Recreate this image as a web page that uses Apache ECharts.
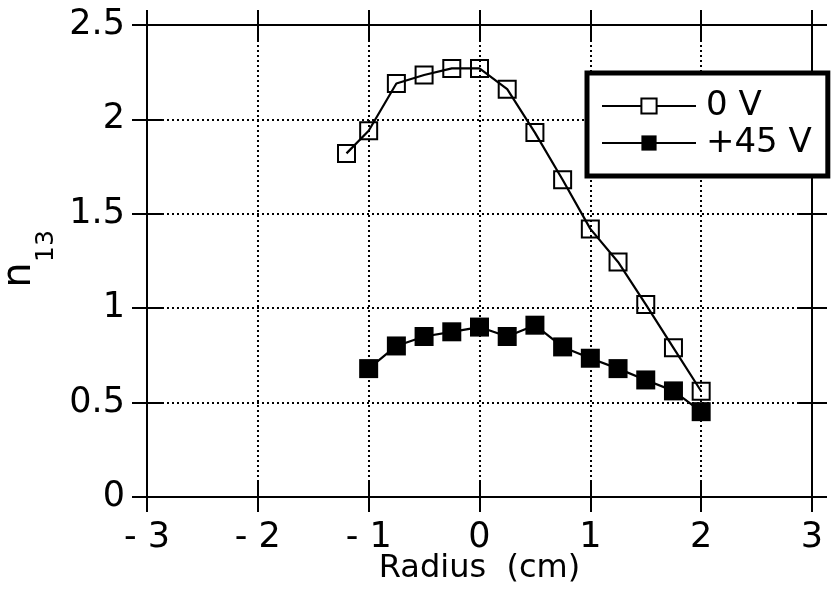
<!DOCTYPE html>
<html><head><meta charset="utf-8">
<script src="https://cdn.jsdelivr.net/npm/echarts@6/dist/echarts.min.js"></script>
<style>html,body{margin:0;padding:0;background:#fff}#c{width:832px;height:594px}</style>
</head><body><div id="c"></div>
<script>
// Data
const radius0V = [-1.2, -1, -0.75, -0.5, -0.25, 0, 0.25, 0.5, 0.75, 1, 1.25, 1.5, 1.75, 2];
const n13_0V = [1.82, 1.94, 2.19, 2.235, 2.27, 2.27, 2.16, 1.93, 1.68, 1.42, 1.245, 1.02, 0.79, 0.56];
const radius45V = [-1, -0.75, -0.5, -0.25, 0, 0.25, 0.5, 0.75, 1, 1.25, 1.5, 1.75, 2];
const n13_45V = [0.68, 0.80, 0.85, 0.875, 0.90, 0.85, 0.91, 0.795, 0.735, 0.68, 0.62, 0.562, 0.452];
const seriesNames = ['0 V', '+45 V'];
const xTitle = 'Radius  (cm)';
const yTitleMain = 'n';
const yTitleSub = '13';
const xRange = [-3, 3, 1];
const yRange = [0, 2.5, 0.5];

const F = 'DejaVu Sans';
const BLACK = '#000';

function zip(xs, ys) { return xs.map((x, i) => [x, ys[i]]); }

function xAxis(pos, inside, main) {
  return {
    type: 'value', position: pos, min: xRange[0], max: xRange[1], interval: xRange[2],
    axisLine: { show: true, onZero: false, lineStyle: { color: BLACK, width: 2 } },
    axisTick: { show: true, inside: inside, length: 15, lineStyle: { color: BLACK, width: 2 } },
    axisLabel: {
      show: main, margin: 23, color: BLACK, fontFamily: F, fontSize: 35,
      formatter: v => v < 0 ? '- ' + Math.abs(v) : String(v)
    },
    splitLine: { show: main, lineStyle: { color: BLACK, width: 2, type: [2, 3] } },
    name: main ? xTitle : '', nameLocation: 'middle', nameGap: 56, nameMoveOverlap: false,
    nameTextStyle: { color: BLACK, fontFamily: F, fontSize: 32 }
  };
}
function yAxis(pos, inside, main) {
  return {
    type: 'value', position: pos, min: yRange[0], max: yRange[1], interval: yRange[2],
    axisLine: { show: true, onZero: false, lineStyle: { color: BLACK, width: 2 } },
    axisTick: { show: true, inside: inside, length: 15, lineStyle: { color: BLACK, width: 2 } },
    axisLabel: { show: main, margin: 22, color: BLACK, fontFamily: F, fontSize: 35 },
    splitLine: { show: main, lineStyle: { color: BLACK, width: 2, type: [2, 3] } }
  };
}

const chart = echarts.init(document.getElementById('c'), null, { renderer: 'canvas' });
chart.setOption({
  animation: false,
  backgroundColor: '#fff',
  grid: { left: 147, right: 20, top: 25, bottom: 97, containLabel: false, outerBoundsMode: 'none' },
  xAxis: [xAxis('bottom', false, true), xAxis('bottom', true, false), xAxis('top', false, false), xAxis('top', true, false)],
  yAxis: [yAxis('left', false, true), yAxis('left', true, false), yAxis('right', false, false), yAxis('right', true, false)],
  graphic: [
    { type: 'text', x: 20, y: 275, rotation: Math.PI / 2,
      style: { text: yTitleMain, fill: BLACK, font: '40px "DejaVu Sans"', align: 'center', verticalAlign: 'middle' } },
    { type: 'text', x: 46, y: 246, rotation: Math.PI / 2,
      style: { text: yTitleSub, fill: BLACK, font: '25px "DejaVu Sans"', align: 'center', verticalAlign: 'middle' } }
  ],
  legend: {
    orient: 'vertical', left: 587, top: 73,
    padding: [15, 16, 15, 14],
    itemWidth: 94, itemHeight: 19, itemGap: 1,
    backgroundColor: '#fff', borderColor: BLACK, borderWidth: 5,
    textStyle: { color: BLACK, fontFamily: F, fontSize: 34, lineHeight: 36, padding: [0, 0, 0, 5] },
    data: [
      { name: seriesNames[0], itemStyle: { color: '#fff', borderColor: BLACK, borderWidth: 2 } },
      { name: seriesNames[1] }
    ]
  },
  series: [
    {
      name: seriesNames[0], type: 'line', data: zip(radius0V, n13_0V),
      symbol: 'rect', symbolSize: 17,
      lineStyle: { color: BLACK, width: 2.2 },
      itemStyle: { color: 'rgba(255,255,255,0)', borderColor: BLACK, borderWidth: 2 },
      z: 3
    },
    {
      name: seriesNames[1], type: 'line', data: zip(radius45V, n13_45V),
      symbol: 'rect', symbolSize: 19,
      lineStyle: { color: BLACK, width: 2.2 },
      itemStyle: { color: BLACK, borderWidth: 0 },
      z: 3
    }
  ]
});
</script>
</body></html>
